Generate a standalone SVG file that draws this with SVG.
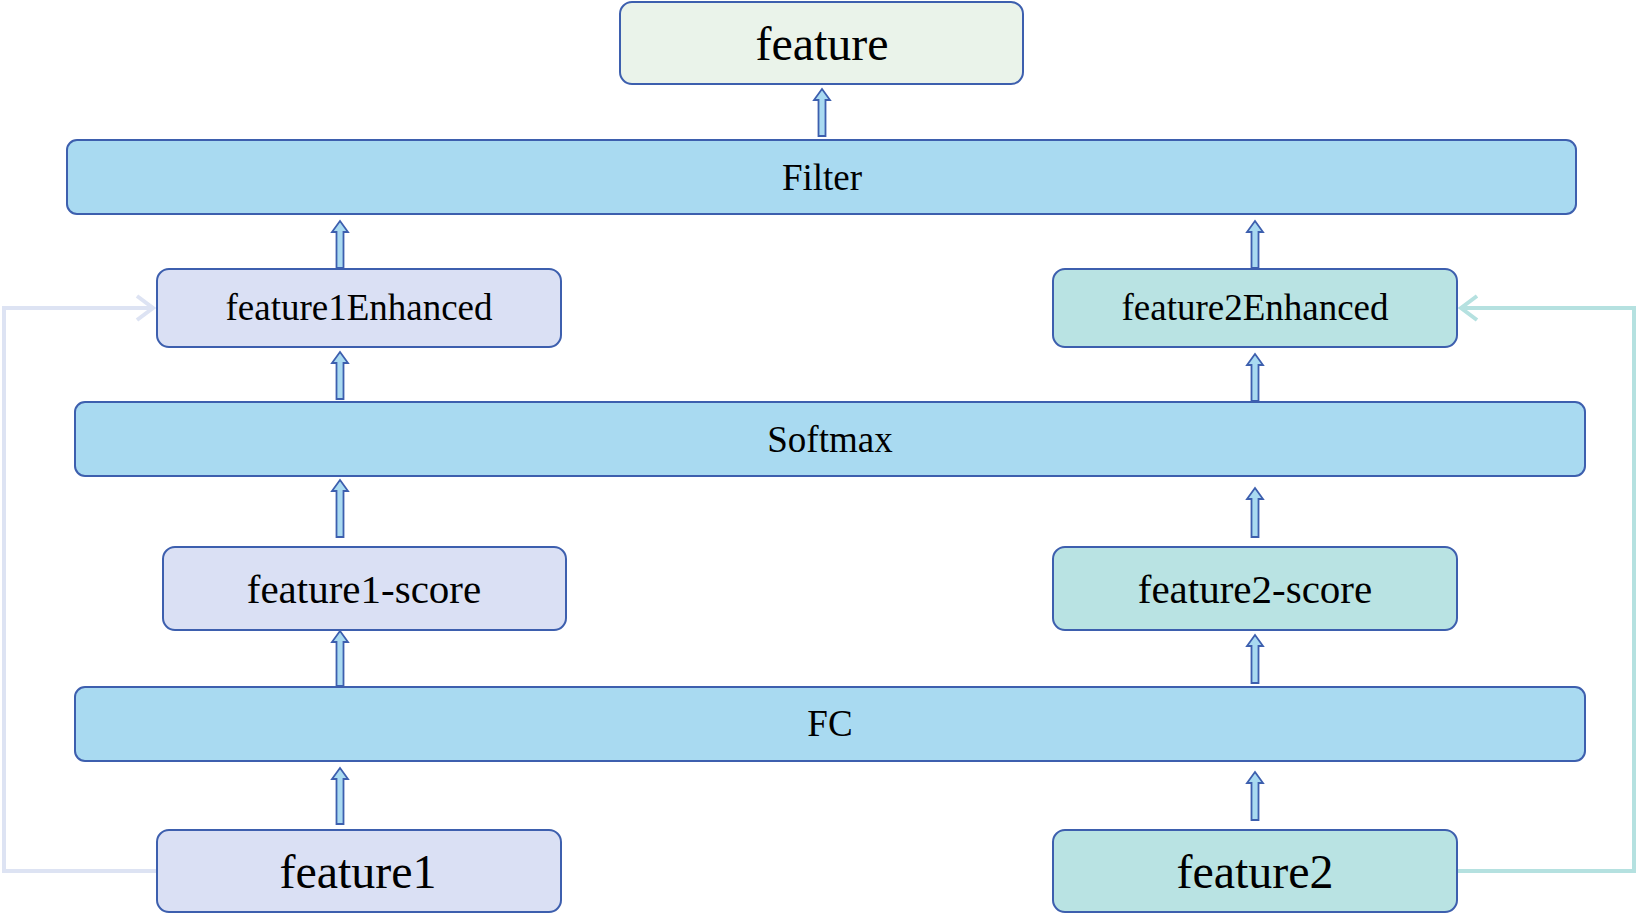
<svg xmlns="http://www.w3.org/2000/svg" width="1637" height="915" viewBox="0 0 1637 915">
<style>
.box{stroke:#3d5fae;stroke-width:2}
.band{fill:#a9daf1}
.g{fill:#eaf3ea}
.p{fill:#dae0f4}
.t{fill:#b9e3e3}
.txt{font-family:"Liberation Serif","Times New Roman",serif;fill:#000;text-anchor:middle}
.up{fill:#a9daf1;stroke:#3d5fae;stroke-width:1.8;stroke-linejoin:miter}
.lk{fill:none;stroke-width:4}
</style>
<rect width="1637" height="915" fill="#fff"/>
<g id="connectors">
<polygon class="up" points="822,89 830,100 825.5,100 825.5,136 818.5,136 818.5,100 814,100"/>
<polygon class="up" points="340,221 348,232 343.5,232 343.5,268 336.5,268 336.5,232 332,232"/>
<polygon class="up" points="1255,221 1263,232 1258.5,232 1258.5,268 1251.5,268 1251.5,232 1247,232"/>
<polygon class="up" points="340,352 348,363 343.5,363 343.5,399 336.5,399 336.5,363 332,363"/>
<polygon class="up" points="1255,354 1263,365 1258.5,365 1258.5,401 1251.5,401 1251.5,365 1247,365"/>
<polygon class="up" points="340,480 348,491 343.5,491 343.5,537 336.5,537 336.5,491 332,491"/>
<polygon class="up" points="1255,488 1263,499 1258.5,499 1258.5,537 1251.5,537 1251.5,499 1247,499"/>
<polygon class="up" points="340,631 348,642 343.5,642 343.5,686 336.5,686 336.5,642 332,642"/>
<polygon class="up" points="1255,635 1263,646 1258.5,646 1258.5,683 1251.5,683 1251.5,646 1247,646"/>
<polygon class="up" points="340,768 348,779 343.5,779 343.5,824 336.5,824 336.5,779 332,779"/>
<polygon class="up" points="1255,772 1263,783 1258.5,783 1258.5,820 1251.5,820 1251.5,783 1247,783"/>
<path class="lk" stroke="#dde3f3" d="M157,871 H4 V308 H153 M137,296 L153,308 L137,320"/>
<path class="lk" stroke="#b5e1e0" d="M1457,871 H1634 V308 H1461 M1477,296 L1461,308 L1477,320"/>
</g>
<g id="feature"><rect class="box g" x="620" y="2" width="403" height="82" rx="12"/><text class="txt" x="822" y="60" font-size="48">feature</text></g>
<g id="filter"><rect class="box band" x="67" y="140" width="1509" height="74" rx="10"/><text class="txt" x="822" y="190" font-size="37">Filter</text></g>
<g id="feature1Enhanced"><rect class="box p" x="157" y="269" width="404" height="78" rx="12"/><text class="txt" x="359" y="320" font-size="37">feature1Enhanced</text></g>
<g id="feature2Enhanced"><rect class="box t" x="1053" y="269" width="404" height="78" rx="12"/><text class="txt" x="1255" y="320" font-size="37">feature2Enhanced</text></g>
<g id="softmax"><rect class="box band" x="75" y="402" width="1510" height="74" rx="10"/><text class="txt" x="830" y="452" font-size="37">Softmax</text></g>
<g id="feature1-score"><rect class="box p" x="163" y="547" width="403" height="83" rx="12"/><text class="txt" x="364" y="603" font-size="41">feature1-score</text></g>
<g id="feature2-score"><rect class="box t" x="1053" y="547" width="404" height="83" rx="12"/><text class="txt" x="1255" y="603" font-size="41">feature2-score</text></g>
<g id="fc"><rect class="box band" x="75" y="687" width="1510" height="74" rx="10"/><text class="txt" x="830" y="736" font-size="37">FC</text></g>
<g id="feature1"><rect class="box p" x="157" y="830" width="404" height="82" rx="12"/><text class="txt" x="358" y="888" font-size="48">feature1</text></g>
<g id="feature2"><rect class="box t" x="1053" y="830" width="404" height="82" rx="12"/><text class="txt" x="1255" y="888" font-size="48">feature2</text></g>
</svg>
